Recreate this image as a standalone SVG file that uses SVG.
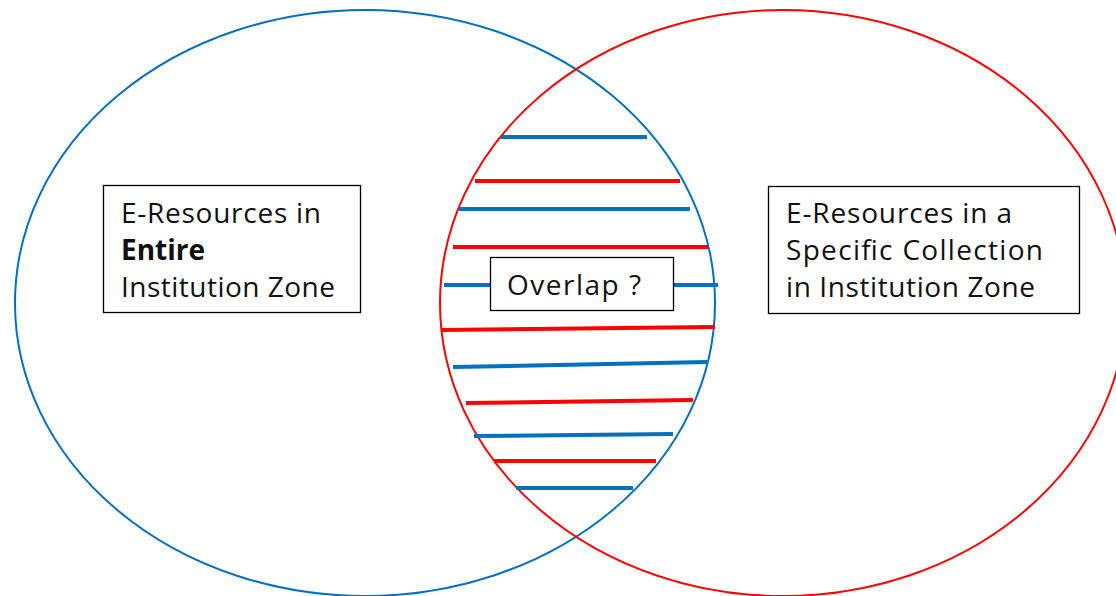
<svg xmlns="http://www.w3.org/2000/svg" width="1116" height="596" viewBox="0 0 1116 596">
<style>
.lbl{font-family:"Open Sans","Liberation Sans",sans-serif;font-size:28px;fill:#111}
.box{fill:#fff;stroke:#000;stroke-width:1.3}
.hb{stroke:#0070C0;stroke-width:4;fill:none}
.hr{stroke:#FF0000;stroke-width:4;fill:none}
</style>
<rect width="1116" height="596" fill="#fff"/>
<g id="set-entire">
<ellipse cx="365" cy="303" rx="350" ry="293" fill="none" stroke="#0070C0" stroke-width="2"/>
</g>
<g id="set-collection">
<ellipse cx="783" cy="303" rx="343" ry="293" fill="none" stroke="#FF0000" stroke-width="2"/>
</g>
<g id="hatch">
<line class="hb" x1="501" y1="137" x2="647" y2="137"/>
<line class="hr" x1="475" y1="181" x2="680" y2="181"/>
<line class="hb" x1="459" y1="209" x2="690" y2="209"/>
<line class="hr" x1="453" y1="247" x2="708" y2="247"/>
<line class="hb" x1="444" y1="285" x2="718" y2="285"/>
<line class="hr" x1="441" y1="330" x2="715" y2="327"/>
<line class="hb" x1="453" y1="367" x2="707" y2="362"/>
<line class="hr" x1="466" y1="403" x2="693" y2="400"/>
<line class="hb" x1="474" y1="436" x2="673" y2="434"/>
<line class="hr" x1="494" y1="461" x2="656" y2="461"/>
<line class="hb" x1="516" y1="488" x2="633" y2="488"/>
</g>
<g id="node-entire">
<rect class="box" x="103.5" y="185.5" width="257" height="127"/>
<text class="lbl" x="121" y="223" textLength="200" lengthAdjust="spacing">E-Resources in</text>
<text class="lbl" x="121" y="260" font-weight="bold" textLength="84" lengthAdjust="spacing">Entire</text>
<text class="lbl" x="121" y="297" textLength="214" lengthAdjust="spacing">Institution Zone</text>
</g>
<g id="node-collection">
<rect class="box" x="768.5" y="186.5" width="311" height="127"/>
<text class="lbl" x="786" y="223" textLength="226" lengthAdjust="spacing">E-Resources in a</text>
<text class="lbl" x="786" y="260" textLength="257" lengthAdjust="spacing">Specific Collection</text>
<text class="lbl" x="786" y="297" textLength="249" lengthAdjust="spacing">in Institution Zone</text>
</g>
<g id="node-overlap">
<rect class="box" x="490.5" y="257.5" width="183" height="53"/>
<text class="lbl" x="507" y="295" textLength="134" lengthAdjust="spacing">Overlap ?</text>
</g>
</svg>
